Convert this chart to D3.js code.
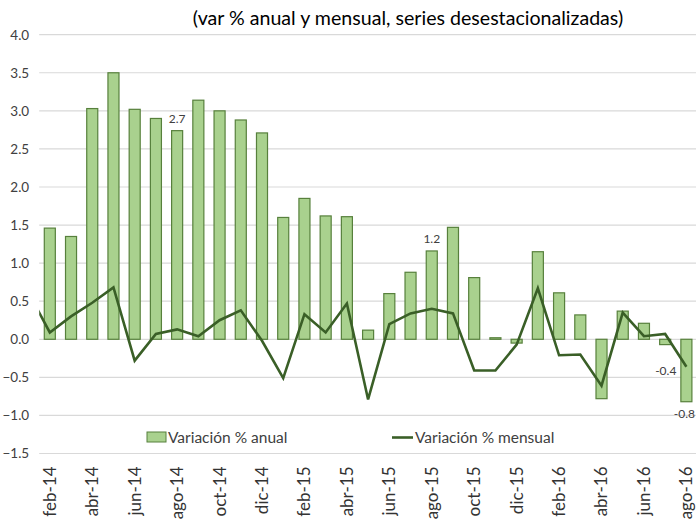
<!DOCTYPE html>
<html><head><meta charset="utf-8">
<script src="https://cdn.jsdelivr.net/npm/d3@7/dist/d3.min.js"></script>
<style>
html,body{margin:0;padding:0;background:#fff;}
svg{display:block;font-family:Lato,"Open Sans",sans-serif;}
</style></head>
<body>
<svg id="c" width="696" height="521"></svg>
<script>
// ---- data ----
const months = ["ene-14","feb-14","mar-14","abr-14","may-14","jun-14","jul-14","ago-14","sep-14","oct-14","nov-14","dic-14",
  "ene-15","feb-15","mar-15","abr-15","may-15","jun-15","jul-15","ago-15","sep-15","oct-15","nov-15","dic-15",
  "ene-16","feb-16","mar-16","abr-16","may-16","jun-16","jul-16","ago-16"];
const barMonths = months.slice(1);
const anual = [1.46,1.35,3.03,3.50,3.02,2.90,2.74,3.14,3.00,2.88,2.71,
  1.60,1.85,1.62,1.61,0.12,0.60,0.88,1.16,1.47,0.81,0.02,-0.05,
  1.15,0.61,0.32,-0.78,0.37,0.21,-0.07,-0.82];
const mensual = [0.61,0.09,0.30,0.48,0.68,-0.28,0.07,0.13,0.04,0.25,0.38,-0.02,
  -0.51,0.33,0.09,0.47,-0.79,0.20,0.34,0.40,0.34,-0.41,-0.41,-0.07,
  0.67,-0.21,-0.20,-0.61,0.35,0.04,0.07,-0.36];
const tickLabels = ["feb-14","abr-14","jun-14","ago-14","oct-14","dic-14","feb-15","abr-15","jun-15","ago-15","oct-15","dic-15","feb-16","abr-16","jun-16","ago-16"];
const yTicks = [-1.5,-1.0,-0.5,0.0,0.5,1.0,1.5,2.0,2.5,3.0,3.5,4.0];
const barLabels = [{m:"ago-14", t:"2.7"},{m:"ago-15", t:"1.2"},{m:"ago-16", t:"-0.8"}];
const lineLabels = [{m:"ago-16", t:"-0.4"}];
const title = "(var % anual y mensual, series desestacionalizadas)";
const legendNames = ["Variación % anual","Variación % mensual"];

// ---- layout ----
const svg = d3.select("#c");
const pL = 39.2, pR = 697, pT = 34.7, pB = 453.5;
const band = (pR-pL)/barMonths.length;
const x = d3.scaleBand().domain(months).range([pL-band, pR]).paddingInner(0.48).paddingOuter(0.24);
const y = d3.scaleLinear().domain([-1.5,4.0]).range([pB, pT]);
const cx = m => x(m) + x.bandwidth()/2;

const fill = "#a9d18e", stroke = "#57803c", lineCol = "#3a5f27", txt = "#404040";

svg.append("defs").append("clipPath").attr("id","plot").append("rect")
  .attr("x", pL).attr("y", 0).attr("width", pR-pL).attr("height", 521);

// gridlines
svg.append("g").selectAll("line").data(yTicks).join("line")
  .attr("x1", pL).attr("x2", pR).attr("y1", d=>y(d)).attr("y2", d=>y(d))
  .attr("stroke","#d9d9d9").attr("stroke-width",1.2);

// y axis labels
const yAxis = d3.axisLeft(y).tickValues(yTicks).tickFormat(d3.format(".1f")).tickSize(0).tickPadding(10);
const gy = svg.append("g").attr("transform",`translate(${pL},0)`).call(yAxis);
gy.select(".domain").remove();
gy.selectAll("text").attr("font-size","13.5px").attr("fill",txt).attr("font-family","Lato");

// bars
svg.append("g").selectAll("rect").data(barMonths).join("rect")
  .attr("x", m => x(m)).attr("width", x.bandwidth())
  .attr("y", (m,i) => y(Math.max(0, anual[i])))
  .attr("height", (m,i) => Math.abs(y(anual[i]) - y(0)))
  .attr("fill", fill).attr("stroke", stroke).attr("stroke-width", 1.2);

// line
const line = d3.line().x((d,i)=>cx(months[i])).y(d=>y(d));
svg.append("path").datum(mensual).attr("d", line)
  .attr("clip-path","url(#plot)")
  .attr("fill","none").attr("stroke", lineCol).attr("stroke-width", 2.6).attr("stroke-linejoin","miter");

// x axis labels
const xAxis = d3.axisBottom(x).tickValues(tickLabels).tickSize(0).tickPadding(0);
const gx = svg.append("g").attr("transform",`translate(0,${pB})`).call(xAxis);
gx.select(".domain").remove();
gx.selectAll("text").attr("font-size","17px").attr("fill","#333").attr("font-family","Lato")
  .attr("transform","rotate(-90)").attr("text-anchor","end")
  .attr("x", -13).attr("y", 0).attr("dy","0.35em");

// data labels
const lab = svg.append("g").attr("font-size","12px").attr("fill",txt);
barLabels.forEach(l => {
  const v = anual[barMonths.indexOf(l.m)];
  const yy = v >= 0 ? y(v) - 8 : y(v) + 16;
  lab.append("text").attr("x", cx(l.m) + (l.m==="ago-16"? -2:0)).attr("y", yy)
    .attr("text-anchor","middle").text(l.t);
});
lineLabels.forEach(l => {
  const v = mensual[months.indexOf(l.m)];
  const tx = cx(l.m) - 10;
  lab.append("rect").attr("x", tx-24).attr("y", y(v)-4).attr("width",24).attr("height",14).attr("fill","#fff");
  lab.append("text").attr("x", tx).attr("y", y(v)+8).attr("text-anchor","end").text(l.t);
});

// title
svg.append("text").attr("x", 408).attr("y", 25).attr("text-anchor","middle")
  .attr("font-size","19.6px").attr("fill","#000").text(title);

// legend
const lg = svg.append("g").attr("font-size","15.5px").attr("fill",txt);
lg.append("rect").attr("x",147).attr("y",432).attr("width",19).attr("height",10)
  .attr("fill",fill).attr("stroke",stroke).attr("stroke-width",1);
lg.append("text").attr("x",168).attr("y",442.5).text(legendNames[0]);
lg.append("line").attr("x1",392).attr("x2",413).attr("y1",437.5).attr("y2",437.5)
  .attr("stroke",lineCol).attr("stroke-width",2.6);
lg.append("text").attr("x",415).attr("y",442.5).text(legendNames[1]);
</script>
</body></html>
